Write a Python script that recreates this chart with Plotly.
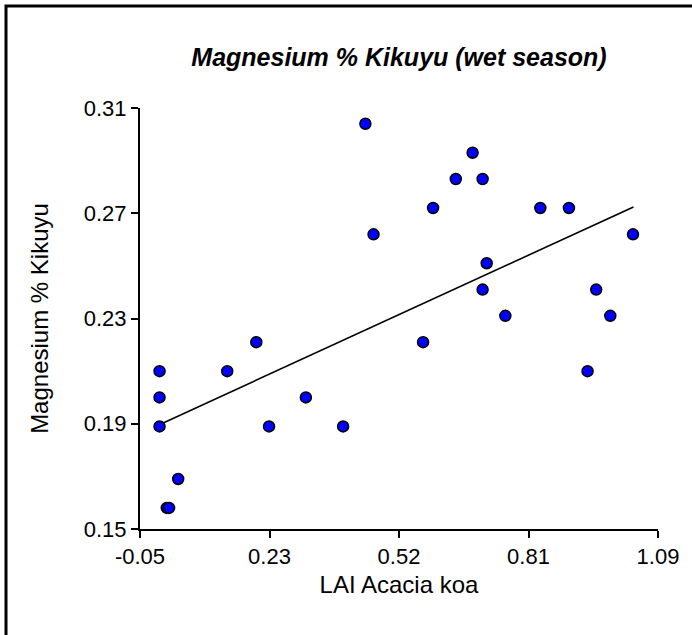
import plotly.graph_objects as go

# Data
lai_x = [-0.007, -0.007, -0.007, 0.009, 0.014, 0.034, 0.142, 0.206, 0.234, 0.315, 0.397,
         0.446, 0.464, 0.573, 0.595, 0.645, 0.682, 0.704, 0.704, 0.713, 0.754,
         0.831, 0.894, 0.935, 0.954, 0.985, 1.035]
mg_y = [0.210, 0.200, 0.189, 0.158, 0.158, 0.169, 0.210, 0.221, 0.189, 0.200, 0.189,
        0.304, 0.262, 0.221, 0.272, 0.283, 0.293, 0.283, 0.241, 0.251, 0.231,
        0.272, 0.272, 0.210, 0.241, 0.231, 0.262]

fit_x = [0.001, 1.036]
fit_y = [0.1903, 0.2724]

x_tickvals = [-0.05, 0.235, 0.52, 0.805, 1.09]
x_ticktext = ["-0.05", "0.23", "0.52", "0.81", "1.09"]
y_tickvals = [0.15, 0.19, 0.23, 0.27, 0.31]
y_ticktext = ["0.15", "0.19", "0.23", "0.27", "0.31"]

FONT = "Liberation Sans, Arial, sans-serif"

fig = go.Figure()
fig.add_trace(go.Scatter(
    x=fit_x, y=fit_y, mode="lines",
    line=dict(color="black", width=1.6), showlegend=False, hoverinfo="skip"))
fig.add_trace(go.Scatter(
    x=lai_x, y=mg_y, mode="markers",
    marker=dict(color="#0000FF", size=11, line=dict(color="black", width=1.5)),
    showlegend=False, cliponaxis=False))

W, H = 692, 635
L, R, T, B = 140, 34, 108, 106
pw, ph = W - L - R, H - T - B

def px_to_paper_x(px):
    return (px - L) / pw

def py_to_paper_y(py):
    return (H - B - py) / ph

fig.update_layout(
    width=W, height=H,
    margin=dict(l=L, r=R, t=T, b=B),
    paper_bgcolor="white", plot_bgcolor="white",
    font=dict(family=FONT, color="black"),
    title=dict(
        text="<b><i>Magnesium % Kikuyu (wet season)</i></b>",
        x=0.5 * (L + W - R) / W, xanchor="center",
        y=1 - 57 / H, yanchor="middle", yref="container",
        font=dict(size=25, family=FONT, color="black")),
    xaxis=dict(
        range=[-0.05, 1.09], showgrid=False, zeroline=False,
        showline=True, linecolor="black", linewidth=2,
        ticks="outside", ticklen=7, tickwidth=2, tickcolor="black",
        tickvals=x_tickvals, ticktext=x_ticktext,
        tickfont=dict(size=22, family=FONT),
        title=dict(text="LAI Acacia koa", font=dict(size=24, family=FONT), standoff=8)),
    yaxis=dict(
        range=[0.15, 0.31], showgrid=False, zeroline=False,
        showline=True, linecolor="black", linewidth=2,
        ticks="outside", ticklen=7, tickwidth=2, tickcolor="black",
        tickvals=y_tickvals, ticktext=y_ticktext,
        tickfont=dict(size=22, family=FONT),
        title=dict(text="Magnesium % Kikuyu", font=dict(size=24, family=FONT), standoff=28)),
    shapes=[dict(
        type="rect", xref="paper", yref="paper",
        x0=px_to_paper_x(6), x1=px_to_paper_x(720),
        y0=py_to_paper_y(660), y1=py_to_paper_y(6),
        line=dict(color="black", width=3), fillcolor="rgba(0,0,0,0)", layer="below")],
)

fig.write_html("out.html",
               config={"displayModeBar": False},
               post_script="document.body.style.margin='0';document.body.style.padding='0';")
